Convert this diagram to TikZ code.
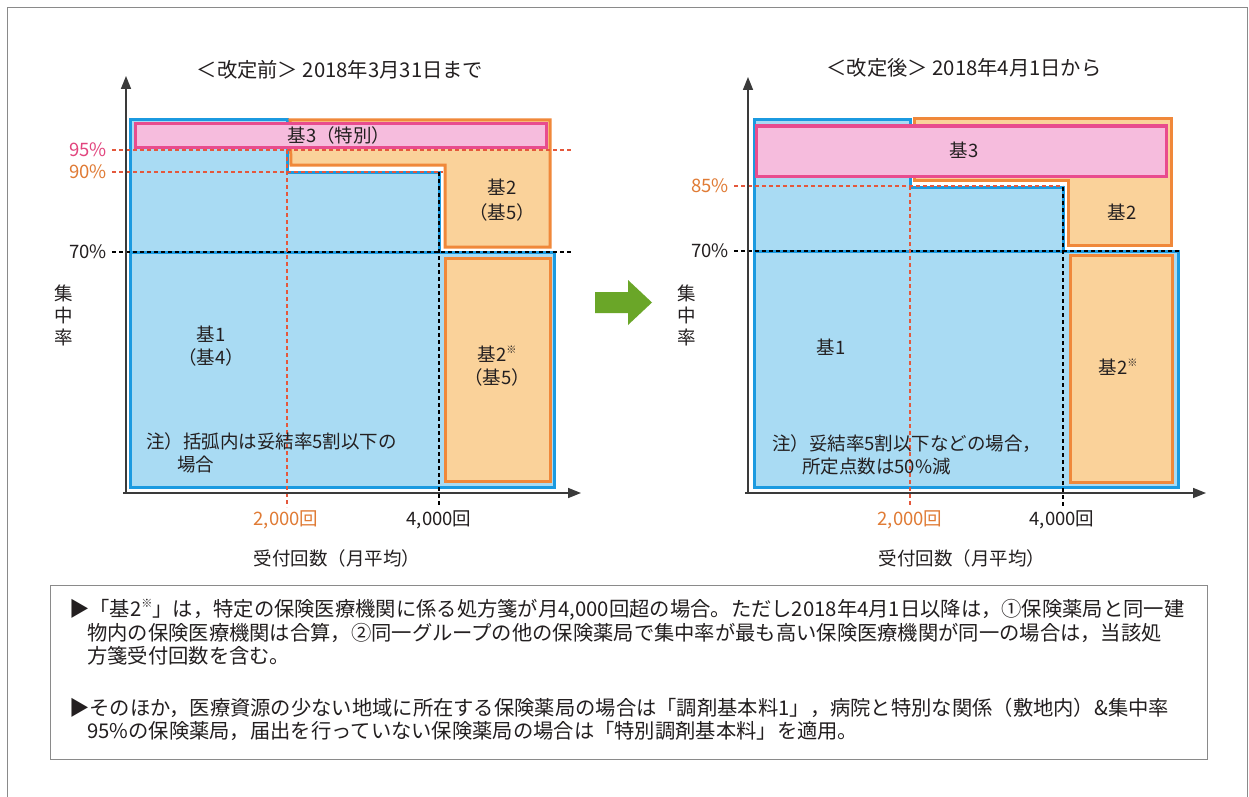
\documentclass[tikz,border=0pt]{standalone}
\usepackage{fontspec}
\usepackage{graphicx}
\newfontfamily\jp{Noto Sans CJK JP}
\usetikzlibrary{arrows.meta}
\definecolor{bfill}{HTML}{A9DBF3}
\definecolor{bline}{HTML}{1B9AE0}
\definecolor{ofill}{HTML}{FAD29A}
\definecolor{oline}{HTML}{F0883A}
\definecolor{pfill}{HTML}{F6BCDD}
\definecolor{pline}{HTML}{E84C8E}
\definecolor{pinktxt}{HTML}{E2457E}
\definecolor{orgtxt}{HTML}{E07B35}
\definecolor{reddash}{HTML}{E4583C}
\definecolor{greenarr}{HTML}{6AA628}
\definecolor{axisc}{HTML}{3A3A3A}
\definecolor{txt}{HTML}{231F20}
\definecolor{framec}{HTML}{8A8A8A}
\newcommand{\komesup}{\raisebox{0.45em}{\scalebox{0.55}{※}}}
\begin{document}
\begin{tikzpicture}[x=1pt,y=-1pt,
  every node/.style={font=\jp\fontsize{18.5}{23}\selectfont, text=txt, inner sep=0pt},
  blueregion/.style={fill=bfill, draw=bline, line width=3pt},
  orangeregion/.style={fill=ofill, draw=oline, line width=3pt},
  pinkregion/.style={fill=pfill, draw=pline, line width=3pt},
  axisline/.style={draw=axisc, line width=1.6pt, -{Triangle[length=13pt,width=10pt]}},
  odash/.style={draw=reddash, line width=1.3pt, dash pattern=on 4pt off 3pt},
  kdash/.style={draw=black, line width=1.3pt, dash pattern=on 4pt off 3pt},
  ttl/.style={font=\jp\fontsize{20.3}{24}\selectfont},
  bodytxt/.style={font=\jp\fontsize{20.3}{23}\selectfont, anchor=west},
  pct/.style={anchor=east},
  note/.style={anchor=west, align=left},
  twoline/.style={align=center}
]
\useasboundingbox (0,0) rectangle (1249,797);
\fill[white] (0,0) rectangle (1249,797);
% outer frame
\draw[framec, line width=1pt] (7,797) -- (7,8) -- (1247,8) -- (1247,797);

% ================= LEFT CHART =================
\node[ttl] (ltitle) at (340,70) {＜改定前＞ 2018年3月31日まで};
\draw[blueregion] (130,252) rectangle (554,487);
\draw[blueregion] (130,252) -- (130,120) -- (287,120) -- (287,172) -- (439,172) -- (439,252) -- cycle;
\draw[orangeregion] (290,120) -- (550,120) -- (550,247) -- (445,247) -- (445,165) -- (291,165) -- cycle;
\draw[orangeregion] (445,258) rectangle (550,481);
\draw[pinkregion] (135,124) rectangle (546,147);
% dashed guides
\draw[odash] (112,150) -- (571,150);
\draw[odash] (112,172) -- (443,172);
\draw[kdash] (112,252) -- (571,252);
\draw[odash] (287,150) -- (287,507);
\draw[kdash] (439,172) -- (439,507);
% axes
\coordinate (LO) at (126,493);
\coordinate (LY) at (126,76);
\coordinate (LX) at (581,493);
\draw[axisline] ([yshift=-0.8pt]LO) -- (LY);
\draw[axisline] ([xshift=-3pt]LO) -- (LX);
% labels
\node[pct, text=pinktxt] (l95) at (107,150) {95\%};
\node[pct, text=orgtxt] (l90) at (107,172) {90\%};
\node[pct] (l70) at (107,252) {70\%};
\node[twoline, font=\jp\fontsize{18.5}{22}\selectfont] (lyl) at (64,315) {集\\中\\率};
\node (lk3) at (339,135) {基3（特別）};
\node[twoline, font=\jp\fontsize{18.5}{25}\selectfont] (lk2) at (502,200) {基2\\（基5）};
\node[twoline] (lk1) at (211,346) {基1\\（基4）};
\node[twoline] (lk2s) at (497,366) {基2\komesup\\（基5）};
\node[note] (lnote) at (146,453) {注）括弧内は妥結率5割以下の\\\hspace*{31pt}場合};
\node[text=orgtxt] (l2000) at (286,520) {2,000回};
\node (l4000) at (439,520) {4,000回};
\node (lxl) at (337,558) {受付回数（月平均）};

% ================= ARROW =================
\fill[greenarr] (595,292) -- (628,292) -- (628,280) -- (652,302.5) -- (628,325) -- (628,313) -- (595,313) -- cycle;

% ================= RIGHT CHART =================
\node[ttl] (rtitle) at (964,68) {＜改定後＞ 2018年4月1日から};
\draw[blueregion] (754,251) rectangle (1178,487);
\draw[blueregion] (754,251) -- (754,120) -- (910,120) -- (910,187) -- (1063,187) -- (1063,251) -- cycle;
\draw[orangeregion] (914,119) -- (1171,119) -- (1171,245) -- (1068,245) -- (1068,180) -- (914,180) -- cycle;
\draw[orangeregion] (1070,255) rectangle (1172,482);
\draw[pinkregion] (756,126) rectangle (1166,176);
% dashed guides
\draw[odash] (734,186) -- (1063,186);
\draw[kdash] (734,251) -- (1179,251);
\draw[odash] (910,186) -- (910,507);
\draw[kdash] (1063,187) -- (1063,507);
% axes
\coordinate (RO) at (748,493);
\coordinate (RY) at (748,77);
\coordinate (RX) at (1206,493);
\draw[axisline] ([yshift=-0.8pt]RO) -- (RY);
\draw[axisline] ([xshift=-3pt]RO) -- (RX);
% labels
\node[pct, text=orgtxt] (r85) at (729,186) {85\%};
\node[pct] (r70) at (729,251) {70\%};
\node[twoline, font=\jp\fontsize{18.5}{22}\selectfont] (ryl) at (687,315) {集\\中\\率};
\node (rk3) at (964,150) {基3};
\node (rk2) at (1122,212) {基2};
\node (rk1) at (831,347) {基1};
\node (rk2s) at (1118,367) {基2\komesup};
\node[note] (rnote) at (772,455) {注）妥結率5割以下などの場合，\\\hspace*{30pt}所定点数は50\%減};
\node[text=orgtxt] (r2000) at (910,520) {2,000回};
\node (r4000) at (1062,520) {4,000回};
\node (rxl) at (962,558) {受付回数（月平均）};

% ================= TEXT BOX =================
\draw[framec, line width=1pt] (50,585) rectangle (1207,759);
\node[bodytxt] (t1) at (69,610) {▶「基2\komesup」は，特定の保険医療機関に係る処方箋が月4,000回超の場合。ただし2018年4月1日以降は，①保険薬局と同一建};
\node[bodytxt] (t2) at (87,633) {物内の保険医療機関は合算，②同一グループの他の保険薬局で集中率が最も高い保険医療機関が同一の場合は，当該処};
\node[bodytxt] (t3) at (87,656) {方箋受付回数を含む。};
\node[bodytxt] (t4) at (69,708) {▶そのほか，医療資源の少ない地域に所在する保険薬局の場合は「調剤基本料1」，病院と特別な関係（敷地内）\&集中率};
\node[bodytxt] (t5) at (87,731) {95\%の保険薬局，届出を行っていない保険薬局の場合は「特別調剤基本料」を適用。};
\end{tikzpicture}
\end{document}
